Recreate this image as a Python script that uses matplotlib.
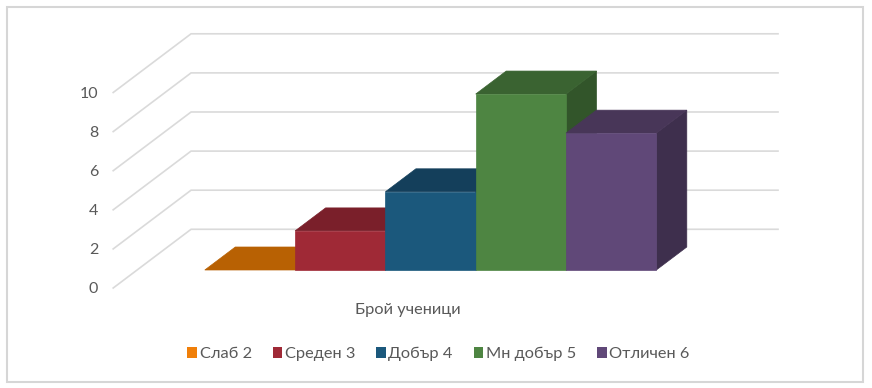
import matplotlib
matplotlib.use('Agg')
import matplotlib.pyplot as plt
from matplotlib.patches import Polygon, Rectangle

categories = ['Слаб 2', 'Среден 3', 'Добър 4', 'Мн добър 5', 'Отличен 6']
values = [0, 2, 4, 9, 7]
y_ticks = [0, 2, 4, 6, 8, 10]
x_label = 'Брой ученици'

front_colors = ['#F07F09', '#9F2936', '#1B587C', '#4E8542', '#604878']
top_colors = ['#B86103', '#7A1F2A', '#143F5B', '#3A6331', '#483658']
side_colors = ['#A55602', '#6B1B25', '#113550', '#32552A', '#3E2F4D']

W, H = 872, 388
X0 = 204.8      # pixel of the left bar edge
BAR_PX = 90.3   # pixels for one category
VAL_PX = 19.55  # pixels for one value unit
DX, DY = 30.5 / BAR_PX, 23 / VAL_PX  # shift for one bar depth

plt.rcParams['font.family'] = ['Lato', 'Open Sans', 'DejaVu Sans']
text_color = '#595959'
grid_color = '#DADADA'

fig = plt.figure(figsize=(W / 100, H / 100), dpi=100)
ax = fig.add_axes([0, 0, 1, 1])
ax.set_xlim(-X0 / BAR_PX, (W - X0) / BAR_PX)
ax.set_ylim(-(H - 270) / VAL_PX, 270 / VAL_PX)
ax.axis('off')


def proj(x, v, d):
    # oblique projection, d is depth in bar depths
    return x + d * DX, v + d * DY


def face(points, color, z=3):
    ax.add_patch(Polygon([proj(*p) for p in points], closed=True, fc=color, ec=color, lw=0.5, zorder=z))


# chart border
ax.add_patch(Rectangle((7 / W, 1 - 382 / H), 856 / W, 375 / H, transform=ax.transAxes,
                       fc='white', ec='#D6D6D6', lw=1.5, zorder=0))

# wall and back grid lines
wall_l, wall_r = -0.75, 5.75
d_front, d_back = -0.783, 1.77
for t in y_ticks:
    x0, y0 = proj(wall_l, t, d_front)
    x1, y1 = proj(wall_l, t, d_back)
    x2, y2 = proj(wall_r, t, d_back)
    ax.plot([x0, x1, x2], [y0, y1, y2], color=grid_color, lw=1.2, zorder=1, solid_joinstyle='miter')
    ax.text(x0 - 15 / BAR_PX, y0 - 1 / VAL_PX, str(t), ha='right', va='center', fontsize=11.5, color=text_color)

# bars, left to right so later ones cover the sides
for i, v in enumerate(values):
    face([(i + 1, 0, 0), (i + 1, 0, 1), (i + 1, v, 1), (i + 1, v, 0)], side_colors[i], 2 + i)
    face([(i, v, 0), (i + 1, v, 0), (i + 1, v, 1), (i, v, 1)], top_colors[i], 2 + i)
    if v > 0:
        face([(i, 0, 0), (i + 1, 0, 0), (i + 1, v, 0), (i, v, 0)], front_colors[i], 2 + i)

ax.text((408 - X0) / BAR_PX, -40 / VAL_PX, x_label, ha='center', va='center', fontsize=11.8, color=text_color)

# legend
handles = [Rectangle((0, 0), 1, 1, fc=c, ec='none') for c in front_colors]
fig.legend(handles, categories, loc='center', bbox_to_anchor=(438.5 / W, 1 - 354 / H), ncol=5, frameon=False,
           fontsize=11.8, labelcolor=text_color, handlelength=0.6, handleheight=0.6, handletextpad=0.15,
           columnspacing=1.27)

fig.savefig('out.png', dpi=100)
